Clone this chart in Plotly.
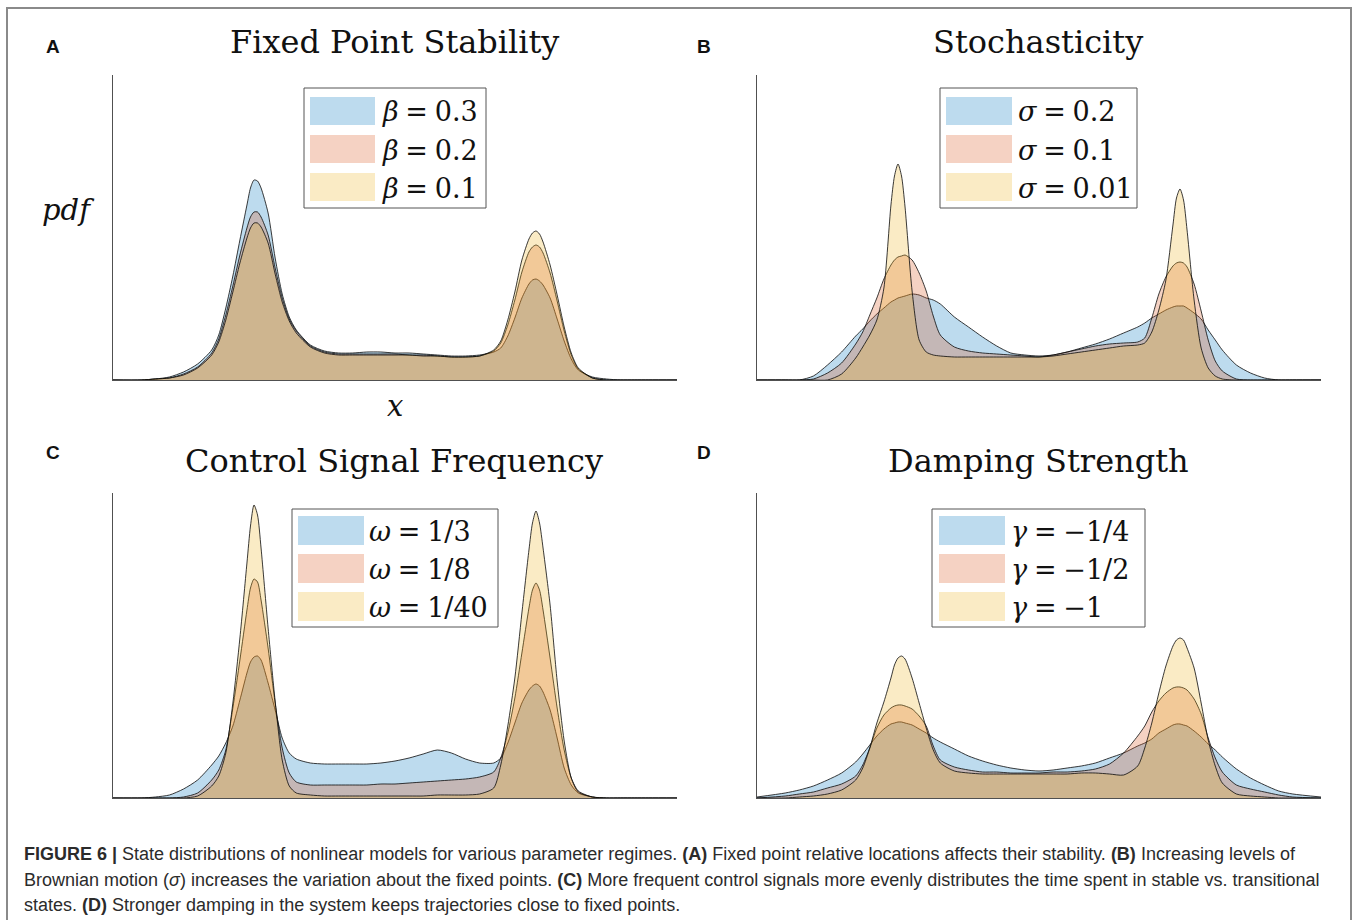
import plotly.graph_objects as go

W, H = 1357, 920

# ---------------- data (state x, pdf in arbitrary units) ----------------
X = [-2.0, -1.8, -1.7, -1.6, -1.5, -1.4, -1.3,
     -1.25, -1.2, -1.15, -1.1, -1.05, -1.025, -1.0, -0.975, -0.95, -0.9,
     -0.85, -0.8, -0.75, -0.7, -0.6, -0.5, -0.4, -0.3, -0.2, -0.1,
     0.0, 0.1, 0.2, 0.3, 0.4, 0.5, 0.6, 0.7,
     0.75, 0.8, 0.85, 0.9, 0.95, 0.975, 1.0, 1.025, 1.05, 1.1,
     1.15, 1.2, 1.25, 1.3, 1.4, 1.5, 1.6, 1.7, 1.8, 2.0]

# (A) Fixed point stability
A_beta_03 = [0, 0, 1, 3, 8, 16, 30,
             45, 72, 104, 140, 175, 192, 200, 199, 192, 167,
             122, 86, 63, 50, 35, 29, 27, 27, 28, 28,
             27, 27, 26, 25, 24, 24, 25, 28,
             32, 44, 62, 82, 96, 100, 101, 99, 95, 82,
             61, 39, 21, 10, 3, 1, 0, 0, 0, 0]
A_beta_02 = [0, 0, 1, 2, 6, 13, 27,
             41, 65, 94, 125, 152, 163, 168, 168, 163, 145,
             112, 82, 61, 49, 34, 28, 26, 26, 26, 26,
             26, 25, 25, 24, 23, 23, 24, 29,
             37, 55, 80, 108, 128, 133, 135, 133, 127, 107,
             79, 49, 25, 11, 2, 0, 0, 0, 0, 0]
A_beta_01 = [0, 0, 1, 2, 5, 12, 25,
             38, 60, 88, 117, 142, 152, 157, 157, 153, 137,
             106, 78, 59, 47, 33, 27, 25, 25, 25, 25,
             25, 25, 24, 24, 23, 23, 24, 30,
             39, 60, 88, 120, 141, 147, 149, 146, 138, 115,
             85, 53, 27, 12, 2, 0, 0, 0, 0, 0]

# (B) Stochasticity
B_sigma_02 = [0, 0, 0, 4, 15, 28, 44,
              51, 59, 66, 72, 78, 80, 82, 83, 84, 86,
              85, 82, 80, 76, 63, 53, 43, 34, 27, 25,
              24, 25, 28, 32, 36, 41, 47, 53,
              57, 62, 66, 70, 73, 74, 74, 74, 72, 67,
              61, 50, 40, 30, 15, 7, 2, 0, 0, 0]
B_sigma_01 = [0, 0, 0, 1, 7, 17, 36,
              48, 65, 82, 101, 115, 120, 123, 124, 125, 120,
              107, 89, 64, 45, 33, 29, 27, 26, 25, 24,
              23, 25, 28, 31, 34, 36, 37, 38,
              42, 62, 86, 103, 114, 117, 118, 117, 113, 96,
              69, 40, 19, 9, 1, 0, 0, 0, 0, 0]
B_sigma_001 = [0, 0, 0, 0, 0, 6, 22,
               33, 45, 60, 92, 175, 204, 216, 204, 173, 89,
               40, 28, 25, 24, 23, 23, 23, 23, 23, 23,
               23, 24, 26, 28, 30, 32, 34, 35,
               37, 48, 70, 100, 155, 182, 191, 180, 150, 80,
               32, 12, 4, 1, 0, 0, 0, 0, 0, 0]

# (C) Control signal frequency
C_omega_1_3 = [0, 0, 1, 3, 9, 18, 33,
               42, 55, 72, 98, 125, 136, 141, 142, 138, 115,
               88, 60, 45, 39, 35, 34, 34, 34, 34, 35,
               37, 40, 44, 48, 45, 39, 35, 35,
               40, 55, 75, 95, 108, 112, 114, 112, 106, 88,
               60, 30, 13, 5, 1, 0, 0, 0, 0, 0]
C_omega_1_8 = [0, 0, 0, 0, 1, 5, 18,
               28, 48, 90, 138, 188, 210, 219, 216, 198, 150,
               95, 50, 25, 16, 13, 13, 13, 13, 13, 14,
               14, 15, 16, 17, 18, 19, 21, 26,
               40, 65, 100, 145, 190, 208, 215, 208, 188, 140,
               90, 48, 20, 7, 1, 0, 0, 0, 0, 0]
C_omega_1_40 = [0, 0, 0, 0, 0, 2, 12,
                22, 45, 95, 160, 235, 272, 293, 283, 250, 170,
                97, 38, 12, 5, 3, 2, 2, 2, 2, 2,
                2, 2, 2, 3, 3, 3, 4, 10,
                33, 72, 120, 185, 248, 275, 287, 275, 250, 193,
                117, 57, 20, 6, 1, 0, 0, 0, 0, 0]

# (D) Damping strength
D_gamma_1_4 = [1, 5, 8, 12, 18, 25, 36,
               44, 53, 62, 69, 74, 75, 76, 76, 75, 73,
               69, 65, 60, 56, 49, 42, 37, 33, 30, 28,
               27, 28, 30, 32, 35, 40, 45, 52,
               55, 59, 65, 69, 73, 74, 74, 73, 72, 67,
               61, 54, 48, 41, 29, 20, 13, 7, 4, 1]
D_gamma_1_2 = [0, 2, 4, 6, 10, 14, 22,
               33, 50, 70, 83, 90, 92, 93, 93, 92, 89,
               82, 72, 52, 38, 31, 28, 26, 26, 25, 25,
               25, 26, 26, 27, 29, 34, 45, 62,
               72, 86, 97, 105, 110, 111, 111, 110, 108, 99,
               84, 60, 40, 26, 13, 9, 6, 3, 1, 0]
D_gamma_1 = [0, 0, 1, 2, 4, 8, 18,
             30, 50, 75, 96, 120, 133, 140, 142, 139, 120,
             95, 70, 48, 35, 27, 25, 24, 24, 24, 24,
             24, 24, 24, 25, 25, 24, 23, 32,
             50, 75, 105, 132, 152, 158, 160, 158, 150, 130,
             95, 58, 32, 15, 4, 2, 1, 0, 0, 0]

# legend labels
A_labels = ["β", ["0.3", "0.2", "0.1"]]
B_labels = ["σ", ["0.2", "0.1", "0.01"]]
C_labels = ["ω", ["1/3", "1/8", "1/40"]]
D_labels = ["γ", ["−1/4", "−1/2", "−1"]]

titles = ["Fixed Point Stability", "Stochasticity",
          "Control Signal Frequency", "Damping Strength"]
letters = ["A", "B", "C", "D"]

# ---------------- styling / layout (pixel geometry) ----------------
FILLS = ["rgba(0,114,189,0.26)", "rgba(217,83,25,0.26)", "rgba(237,177,32,0.26)"]
EDGE = "rgba(10,10,10,0.8)"
SERIF = "DejaVu Serif"
SANS = "Liberation Sans"


def fx(px):
    return px / W


def fy(py):
    return 1 - py / H


panels = [
    dict(series=[A_beta_03, A_beta_02, A_beta_01], labels=A_labels,
         xpx=(113, 677), ypx=(75, 380), title_xy=(394, 42), letter_xy=(53, 46),
         box=(304, 486, 88, 208), sw=(310, 375), rows=(97, 135, 173), rh=28, tx=380),
    dict(series=[B_sigma_02, B_sigma_01, B_sigma_001], labels=B_labels,
         xpx=(757, 1321), ypx=(75, 380), title_xy=(1038, 42), letter_xy=(704, 46),
         box=(940, 1137, 88, 208), sw=(946, 1012), rows=(97, 135, 173), rh=28, tx=1016),
    dict(series=[C_omega_1_3, C_omega_1_8, C_omega_1_40], labels=C_labels,
         xpx=(113, 677), ypx=(493, 798), title_xy=(394, 461), letter_xy=(53, 452),
         box=(292, 498, 509, 627), sw=(298, 364), rows=(516, 554, 592), rh=29, tx=367),
    dict(series=[D_gamma_1_4, D_gamma_1_2, D_gamma_1], labels=D_labels,
         xpx=(757, 1321), ypx=(493, 798), title_xy=(1038, 461), letter_xy=(704, 452),
         box=(932, 1145, 509, 627), sw=(939, 1005), rows=(516, 554, 592), rh=29, tx=1009),
]

fig = go.Figure()
shapes = []
annotations = []
layout_axes = {}

for i, p in enumerate(panels):
    n = "" if i == 0 else str(i + 1)
    for vals, fc in zip(p["series"], FILLS):
        fig.add_trace(go.Scatter(
            x=X, y=vals, xaxis="x" + n, yaxis="y" + n, mode="lines",
            fill="tozeroy", fillcolor=fc,
            line=dict(color=EDGE, width=1, shape="spline", smoothing=0.7),
            showlegend=False, hoverinfo="skip"))
    axstyle = dict(showline=True, linecolor="#505050", linewidth=1, showgrid=False,
                   zeroline=False, showticklabels=False, ticks="", fixedrange=True)
    layout_axes["xaxis" + n] = dict(domain=[fx(p["xpx"][0]), fx(p["xpx"][1])],
                                    range=[-2, 2], anchor="y" + n, **axstyle)
    layout_axes["yaxis" + n] = dict(domain=[fy(p["ypx"][1]), fy(p["ypx"][0])],
                                    range=[0, 305], anchor="x" + n, **axstyle)

    # title and panel letter
    annotations.append(dict(text=titles[i], x=fx(p["title_xy"][0]), y=fy(p["title_xy"][1]),
                            xref="paper", yref="paper", xanchor="center", yanchor="middle",
                            showarrow=False, font=dict(family=SERIF, size=32, color="#111")))
    annotations.append(dict(text="<b>" + letters[i] + "</b>", x=fx(p["letter_xy"][0]),
                            y=fy(p["letter_xy"][1]), xref="paper", yref="paper",
                            xanchor="center", yanchor="middle", showarrow=False,
                            font=dict(family=SANS, size=19, color="#111")))

    # custom legend
    bx0, bx1, by0, by1 = p["box"]
    shapes.append(dict(type="rect", xref="paper", yref="paper", layer="above",
                       x0=fx(bx0), x1=fx(bx1), y0=fy(by1), y1=fy(by0),
                       line=dict(color="#555", width=1), fillcolor="white"))
    sym, vals_txt = p["labels"]
    for k, (top, fc) in enumerate(zip(p["rows"], FILLS)):
        shapes.append(dict(type="rect", xref="paper", yref="paper", layer="above",
                           x0=fx(p["sw"][0]), x1=fx(p["sw"][1]),
                           y0=fy(top + p["rh"]), y1=fy(top),
                           line=dict(width=0), fillcolor=fc))
        annotations.append(dict(text="<i>" + sym + "</i>\u2005=\u2005" + vals_txt[k],
                                x=fx(p["tx"]), y=fy(top + p["rh"] / 2 + 1),
                                xref="paper", yref="paper", xanchor="left", yanchor="middle",
                                showarrow=False, font=dict(family=SERIF, size=27, color="#111")))

# axis labels of panel A
annotations.append(dict(text="<i>pdf</i>", x=fx(68), y=fy(210), xref="paper", yref="paper",
                        xanchor="center", yanchor="middle", showarrow=False,
                        font=dict(family=SERIF, size=29, color="#111")))
annotations.append(dict(text="<i>x</i>", x=fx(395), y=fy(406), xref="paper", yref="paper",
                        xanchor="center", yanchor="middle", showarrow=False,
                        font=dict(family=SERIF, size=29, color="#111")))

# caption
caption_lines = [
    "<b>FIGURE 6 |</b> State distributions of nonlinear models for various parameter regimes. "
    "<b>(A)</b> Fixed point relative locations affects their stability. <b>(B)</b> Increasing levels of",
    "Brownian motion (<i>σ</i>) increases the variation about the fixed points. <b>(C)</b> More frequent "
    "control signals more evenly distributes the time spent in stable vs. transitional",
    "states. <b>(D)</b> Stronger damping in the system keeps trajectories close to fixed points.",
]
for j, line in enumerate(caption_lines):
    annotations.append(dict(text=line, x=fx(22), y=fy(854 + 25.5 * j), xref="paper", yref="paper",
                            xanchor="left", yanchor="middle", showarrow=False,
                            font=dict(family=SANS, size=18, color="#2b2b2b")))

# figure frame
shapes.append(dict(type="rect", xref="paper", yref="paper", layer="above",
                   x0=fx(7), x1=fx(1351), y0=-0.05, y1=fy(8),
                   line=dict(color="#8a8a8a", width=2), fillcolor="rgba(0,0,0,0)"))

fig.update_layout(width=W, height=H, margin=dict(l=0, r=0, t=0, b=0),
                  paper_bgcolor="white", plot_bgcolor="white",
                  shapes=shapes, annotations=annotations, **layout_axes)

fig.write_html("out.html", config={"displayModeBar": False})
